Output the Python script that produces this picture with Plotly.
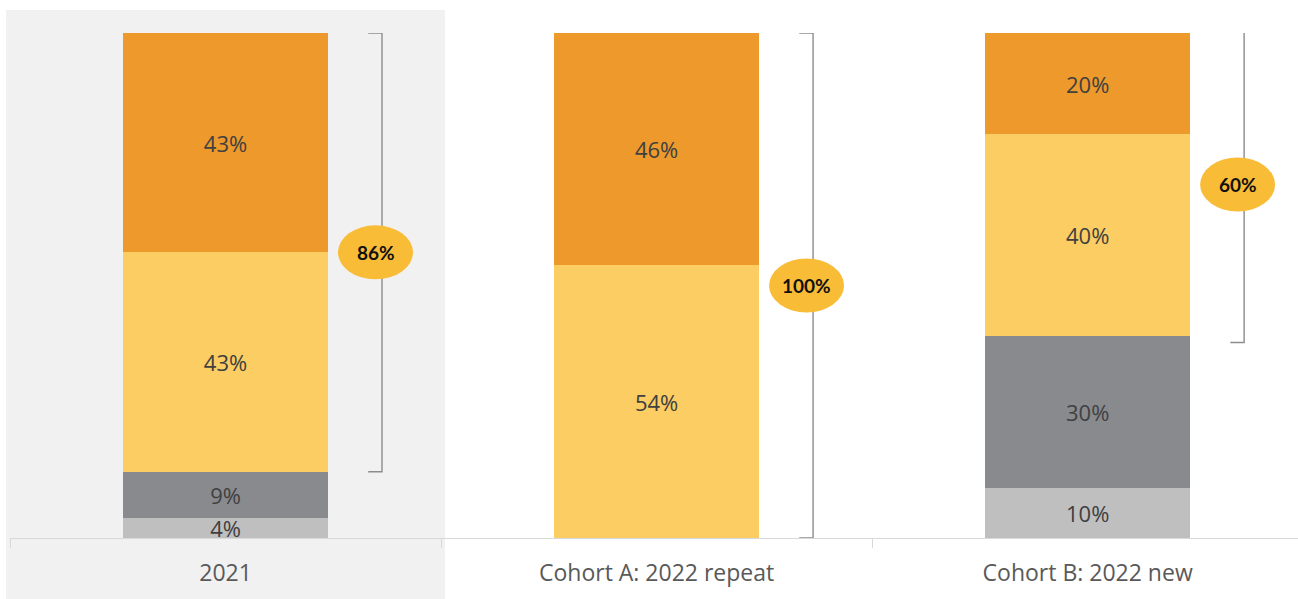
import plotly.graph_objects as go

# Categories and stacked shares (bottom to top)
categories = ["2021", "Cohort A: 2022 repeat", "Cohort B: 2022 new"]
light_grey = [4, 0, 10]
dark_grey = [9, 0, 30]
yellow = [43, 54, 40]
orange = [43, 46, 20]

# Share covered by each bracket (yellow + orange)
bracket_labels = ["86%", "100%", "60%"]

series = [
    (light_grey, "#BFBFBF"),
    (dark_grey, "#898A8E"),
    (yellow, "#FBCD63"),
    (orange, "#ED992C"),
]

fig = go.Figure()
for vals, color in series:
    fig.add_trace(go.Bar(
        x=categories,
        y=vals,
        marker=dict(color=color, line=dict(width=0)),
        text=[f"{v}%" if v else "" for v in vals],
        textposition="inside",
        insidetextanchor="middle",
        textangle=0,
        constraintext="none",
        textfont=dict(family="Open Sans", size=22, color="#404040"),
        width=0.476,
        hoverinfo="skip",
    ))

# Normalised bottom of each bracket: the grey segments' share of the bar
totals = [a + b + c + d for a, b, c, d in zip(light_grey, dark_grey, yellow, orange)]
bracket_base = [100 * (a + b) / t for a, b, t in zip(light_grey, dark_grey, totals)]

shapes = [
    # shaded column behind 2021
    dict(type="rect", xref="paper", yref="paper",
         x0=-0.0031, x1=0.3377, y0=-0.125, y1=1.0455,
         fillcolor="#F1F1F1", line=dict(width=0), layer="below"),
]

annotations = []
offset = 0.363
serif = 0.032
for i, (lo, lab) in enumerate(zip(bracket_base, bracket_labels)):
    pad = 1.3 if i == 2 else 0.0
    y0, y1 = lo - pad, 100 + pad
    xb = i + offset
    shapes.append(dict(
        type="path", xref="x", yref="y",
        path=f"M {xb - serif} {y1} L {xb} {y1} L {xb} {y0} L {xb - serif} {y0}",
        line=dict(color="#8C8C8C", width=1.4),
    ))
    ym = (y0 + y1) / 2
    shapes.append(dict(
        type="circle", xref="x", yref="y",
        xsizemode="pixel", ysizemode="pixel",
        xanchor=xb, yanchor=ym,
        x0=-44, x1=31, y0=-27, y1=27,
        fillcolor="#F9BC36", line=dict(width=0),
    ))
    annotations.append(dict(
        x=xb, y=ym, xref="x", yref="y", xshift=-6.5,
        text=f"<b>{lab}</b>", showarrow=False,
        font=dict(family="Lato", size=19, color="#111111"),
    ))

fig.update_layout(
    barmode="stack",
    barnorm="percent",
    width=1298,
    height=599,
    margin=dict(l=10, r=0, t=33, b=61),
    paper_bgcolor="white",
    plot_bgcolor="rgba(0,0,0,0)",
    showlegend=False,
    shapes=shapes,
    annotations=annotations,
    xaxis=dict(
        range=[-0.5, 2.488],
        showline=True, linecolor="#D9D9D9", linewidth=1,
        ticks="outside", tickson="boundaries", ticklen=9,
        tickcolor="#D9D9D9", tickwidth=1,
        ticklabelstandoff=14,
        tickfont=dict(family="Open Sans", size=23, color="#595959"),
        showgrid=False, zeroline=False,
    ),
    yaxis=dict(
        range=[0, 100], visible=False, showgrid=False, zeroline=False,
    ),
)

fig.write_html("out.html")
